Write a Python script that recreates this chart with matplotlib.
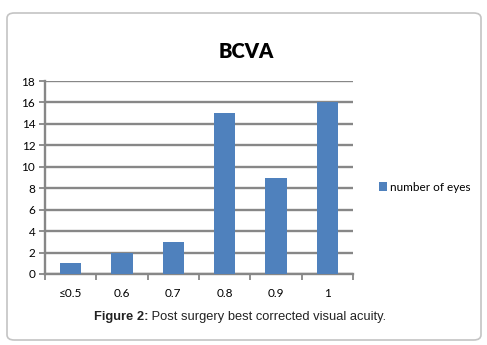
import matplotlib
matplotlib.use("Agg")
import matplotlib.pyplot as plt
from matplotlib.patches import FancyBboxPatch

categories = ["≤0.5", "0.6", "0.7", "0.8", "0.9", "1"]
eyes = [1, 2, 3, 15, 9, 16]
y_ticks = [0, 2, 4, 6, 8, 10, 12, 14, 16, 18]

W, H = 487, 345
fig = plt.figure(figsize=(W / 100, H / 100), dpi=100)
fig.patch.set_facecolor("white")

# rounded outer frame, kept behind the axes
frame = FancyBboxPatch((7 / W, 5 / H), 474 / W, 327 / H,
                       boxstyle="round,pad=0,rounding_size=0.015",
                       transform=fig.transFigure, facecolor="white",
                       edgecolor="#c4c4c4", linewidth=1.2, zorder=-10)
fig.patches.append(frame)

ax = fig.add_axes([45 / W, 1 - 274 / H, 308 / W, 193 / H])
ax.set_facecolor("none")
x = range(len(categories))
ax.bar(x, eyes, width=0.41, color="#4F81BD", label="number of eyes", zorder=3)

ax.set_xlim(-0.5, len(categories) - 0.5)
ax.set_ylim(0, 18)
ax.set_yticks(y_ticks)
ax.set_yticklabels([str(v) for v in y_ticks], fontsize=8.5, family="Lato")
ax.set_xticks(list(x))
ax.set_xticklabels(categories, fontsize=8.5, family=["Lato", "DejaVu Sans"])
ax.set_xticks([i - 0.5 for i in range(len(categories) + 1)], minor=True)
ax.tick_params(axis="x", which="major", length=0, pad=10)
ax.tick_params(axis="x", which="minor", length=4, width=1.3, color="#878787")
ax.tick_params(axis="y", length=4, width=1.3, color="#878787", pad=3)

ax.grid(axis="y", color="#878787", linewidth=1.7, zorder=0)
for side in ["top", "right"]:
    ax.spines[side].set_visible(False)
ax.spines["left"].set_color("#878787")
ax.spines["left"].set_linewidth(1.7)
ax.spines["bottom"].set_color("#878787")
ax.spines["bottom"].set_linewidth(1.7)

fig.text(246 / W, 1 - 52 / H, "BCVA", ha="center", va="center",
         fontsize=14.5, fontweight="heavy", family="Lato")

ax.legend(loc="center left", bbox_to_anchor=(368 / W, 1 - 187 / H),
          bbox_transform=fig.transFigure, frameon=False, handlelength=0.7,
          handleheight=0.7, handletextpad=0.3, prop={"family": "Lato", "size": 8.5})

fig.text(148 / W, 1 - 317 / H, "Figure 2:", ha="right", va="center",
         fontsize=9.3, fontweight="bold", family="Liberation Sans", color="#222222")
fig.text(148 / W, 1 - 317 / H, " Post surgery best corrected visual acuity.",
         ha="left", va="center", fontsize=9.3, family="Liberation Sans", color="#222222")

fig.savefig("out.png", dpi=100)
